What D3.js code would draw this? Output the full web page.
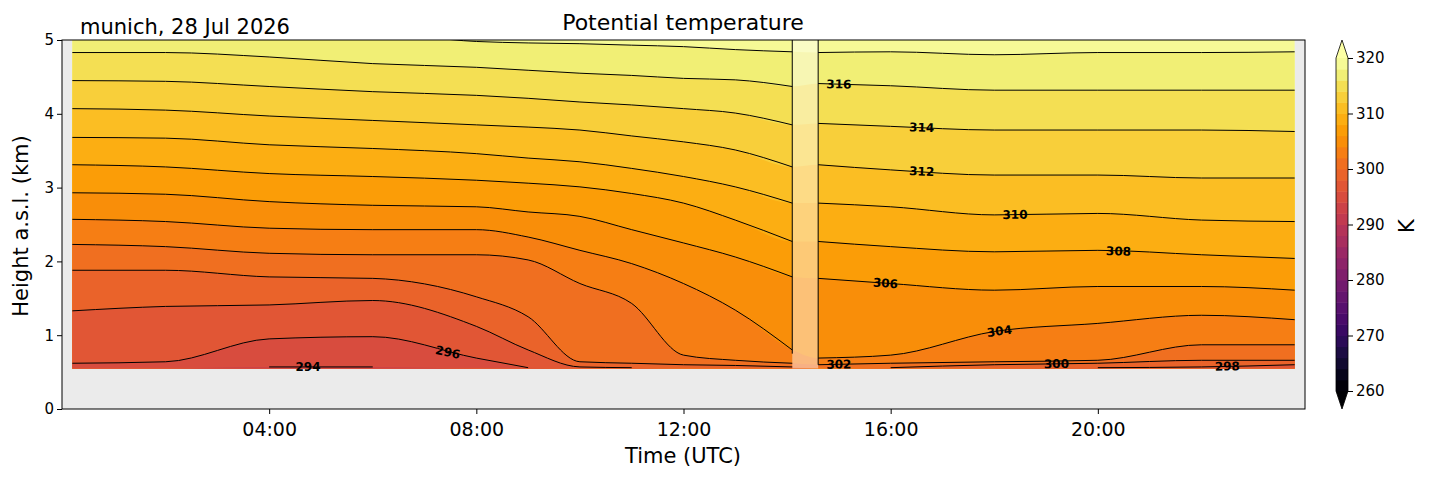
<!DOCTYPE html>
<html><head><meta charset="utf-8">
<script src="https://cdn.jsdelivr.net/npm/d3@7"></script>
<style>body{margin:0;background:#fff;font-family:"DejaVu Sans",sans-serif}</style>
</head><body><svg width="1429" height="478"></svg>
<script>
// isotherm heights (km a.s.l.) at time knots (hours UTC); gap 14.1-14.6 h has no data
const times = [0.2, 2, 4, 6, 8, 9, 10, 11, 12, 13, 14.1, 14.6, 16, 18, 20, 22, 23.8];
const levels = [294, 296, 298, 300, 302, 304, 306, 308, 310, 312, 314, 316, 318];
const h294 = [0.55,0.55,0.57,0.57,0.55,0.55,0.55,0.55,0.55,0.55,0.55, 0.55,0.55,0.55,0.55,0.55,0.55];
const h296 = [0.62,0.64,0.95,0.98,0.69,0.56,0.55,0.55,0.55,0.55,0.55, 0.55,0.55,0.55,0.55,0.55,0.55];
const h298 = [1.33,1.39,1.41,1.47,1.12,0.80,0.57,0.56,0.55,0.55,0.55, 0.55,0.55,0.55,0.56,0.57,0.60];
const h300 = [1.88,1.88,1.79,1.77,1.52,1.25,0.64,0.62,0.60,0.59,0.57, 0.55,0.56,0.60,0.62,0.66,0.66];
const h302 = [2.23,2.20,2.11,2.09,2.09,2.02,1.70,1.43,0.73,0.66,0.62, 0.60,0.62,0.64,0.66,0.87,0.87];
const h304 = [2.57,2.54,2.45,2.43,2.43,2.33,2.15,1.97,1.70,1.34,0.80, 0.69,0.73,1.05,1.16,1.27,1.21];
const h306 = [2.93,2.91,2.81,2.76,2.74,2.67,2.61,2.43,2.25,2.06,1.79, 1.77,1.70,1.61,1.66,1.66,1.61];
const h308 = [3.31,3.28,3.19,3.15,3.10,3.06,3.01,2.92,2.79,2.56,2.27, 2.27,2.20,2.13,2.15,2.09,2.04];
const h310 = [3.68,3.67,3.58,3.53,3.46,3.40,3.35,3.26,3.15,3.01,2.79, 2.79,2.74,2.63,2.65,2.56,2.54];
const h312 = [4.07,4.05,3.97,3.91,3.85,3.82,3.78,3.70,3.62,3.51,3.28, 3.31,3.24,3.17,3.17,3.13,3.13];
const h314 = [4.45,4.44,4.37,4.30,4.25,4.21,4.16,4.12,4.07,4.01,3.85, 3.87,3.83,3.78,3.78,3.78,3.76];
const h316 = [4.83,4.83,4.77,4.68,4.63,4.59,4.55,4.52,4.48,4.46,4.37, 4.41,4.38,4.32,4.32,4.32,4.32];
const h318 = [5.05,5.07,5.08,5.09,4.98,4.96,4.95,4.93,4.91,4.87,4.84, 4.83,4.84,4.80,4.83,4.83,4.84];
const heights = [h294, h296, h298, h300, h302, h304, h306, h308, h310, h312, h314, h316, h318];
const labelLevels = [294, 296, 298, 300, 302, 304, 306, 308, 310, 312, 314, 316];
const labelTimes  = [4.75, 7.45, 22.5, 19.2, 15.0, 18.1, 15.9, 20.4, 18.4, 16.6, 16.6, 15.0];
const gap = [14.1, 14.6];
const xTicks = [4, 8, 12, 16, 20];
const cbTicks = [260, 270, 280, 290, 300, 310, 320];

const svg = d3.select("svg");
const x = d3.scaleLinear().domain([0, 24]).range([62, 1305]);
const y = d3.scaleLinear().domain([0, 5]).range([409, 40]);
const bottom = 0.55;

svg.append("defs").append("clipPath").attr("id", "pc")
  .append("rect").attr("x", 62).attr("y", 40).attr("width", 1243).attr("height", 369);
const plot = svg.append("g").attr("clip-path", "url(#pc)");
plot.append("rect").attr("x", 62).attr("y", 40).attr("width", 1243).attr("height", 369).attr("fill", "#ebebeb");

const col = v => d3.interpolateInferno((v - 260) / 60);
const curve = d3.curveMonotoneX;
// top band, then paint lower bands over it
plot.append("path")
  .attr("d", d3.area().x(t => x(t)).y0(y(bottom)).y1(y(5.2)).curve(curve)(times))
  .attr("fill", col(319));
for (let i = levels.length - 1; i >= 0; i--) {
  const hs = heights[i];
  plot.append("path")
    .attr("d", d3.area().x(t => x(t)).y0(y(bottom)).y1((t, j) => y(Math.max(bottom, hs[j]))).curve(curve)(times))
    .attr("fill", col(levels[i] - 1));
}
// faded gap
plot.append("rect").attr("x", x(gap[0])).attr("width", x(gap[1]) - x(gap[0]))
  .attr("y", y(5)).attr("height", y(bottom) - y(5)).attr("fill", "#fff").attr("opacity", 0.45);

// contour lines, split at the gap
const segs = [times.map((t, j) => j).filter(j => times[j] <= gap[0]), times.map((t, j) => j).filter(j => times[j] >= gap[1])];
heights.forEach(hs => {
  segs.forEach(idx => {
    plot.append("path")
      .attr("d", d3.line().defined(j => hs[j] > bottom + 0.005).x(j => x(times[j])).y(j => y(hs[j])).curve(curve)(idx))
      .attr("fill", "none").attr("stroke", "#000").attr("stroke-width", 1);
  });
});
// vertical contour edges at the gap
[[gap[0], 0.75], [gap[1], 0.6]].forEach(([t, h]) => {
  plot.append("line").attr("x1", x(t)).attr("x2", x(t)).attr("y1", y(h)).attr("y2", y(5))
    .attr("stroke", "#000").attr("stroke-width", 1);
});
// contour labels
const hAt = (hs, t) => {
  const j = d3.bisectRight(times, t) - 1;
  const f = (t - times[j]) / (times[j + 1] - times[j]);
  return hs[j] + f * (hs[j + 1] - hs[j]);
};
labelLevels.forEach((L, k) => {
  const hs = heights[levels.indexOf(L)], t = labelTimes[k];
  const px = x(t), py = y(hAt(hs, t));
  const ang = Math.atan2(y(hAt(hs, t + 0.5)) - y(hAt(hs, t - 0.5)), x(t + 0.5) - x(t - 0.5)) * 180 / Math.PI;
  plot.append("text").attr("transform", `translate(${px},${py}) rotate(${ang})`)
    .attr("text-anchor", "middle").attr("dy", "0.35em").attr("font-size", 12).attr("font-weight", "bold")
    .text(L);
});

// axes
const xa = svg.append("g").attr("transform", "translate(0,409)")
  .call(d3.axisBottom(x).tickValues(xTicks).tickFormat(d => String(d).padStart(2, "0") + ":00").tickSize(5).tickSizeOuter(0));
const ya = svg.append("g").attr("transform", "translate(62,0)")
  .call(d3.axisLeft(y).ticks(5).tickSize(5).tickSizeOuter(0));
[xa, ya].forEach(a => { a.selectAll("text").attr("fill", "#000").attr("font-family", "DejaVu Sans"); a.selectAll("line").attr("stroke", "#000"); a.select(".domain").remove(); });
xa.selectAll("text").attr("font-size", 19).attr("dy", "1.0em");
ya.selectAll("text").attr("font-size", 15);
svg.append("rect").attr("x", 62).attr("y", 40).attr("width", 1243).attr("height", 369)
  .attr("fill", "none").attr("stroke", "#000").attr("stroke-width", 1);

svg.append("text").attr("x", 683).attr("y", 30).attr("text-anchor", "middle").attr("font-size", 22).text("Potential temperature");
svg.append("text").attr("x", 80).attr("y", 34).attr("font-size", 21).text("munich, 28 Jul 2026");
svg.append("text").attr("x", 683).attr("y", 463).attr("text-anchor", "middle").attr("font-size", 21).text("Time (UTC)");
svg.append("text").attr("transform", "translate(28,226) rotate(-90)").attr("text-anchor", "middle").attr("font-size", 21).text("Height a.s.l. (km)");

// colorbar
const cy = d3.scaleLinear().domain([260, 320]).range([391, 58]);
const cb = svg.append("g");
d3.range(260, 320, 2).forEach(v => {
  cb.append("rect").attr("x", 1336).attr("width", 12).attr("y", cy(v + 2)).attr("height", cy(v) - cy(v + 2) + 0.5).attr("fill", col(v + 1));
});
cb.append("path").attr("d", `M1336,58 L1342,40 L1348,58 Z`).attr("fill", col(320));
cb.append("path").attr("d", `M1336,391 L1342,409 L1348,391 Z`).attr("fill", col(260));
cb.append("path").attr("d", `M1336,58 L1342,40 L1348,58 L1348,391 L1342,409 L1336,391 Z`).attr("fill", "none").attr("stroke", "#000").attr("stroke-width", 0.8);
const ca = svg.append("g").attr("transform", "translate(1348,0)").call(d3.axisRight(cy).tickValues(cbTicks).tickSize(5));
ca.select(".domain").remove();
ca.selectAll("text").attr("font-size", 15).attr("font-family", "DejaVu Sans").attr("fill", "#000");
ca.selectAll("line").attr("stroke", "#000");
svg.append("text").attr("transform", "translate(1414,226) rotate(-90)").attr("text-anchor", "middle").attr("font-size", 21).text("K");
</script></body></html>
